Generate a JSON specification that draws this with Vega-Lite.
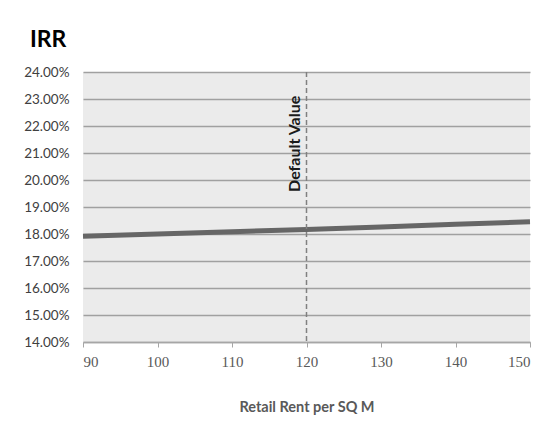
{
  "$schema": "https://vega.github.io/schema/vega-lite/v6.json",
  "width": 447,
  "height": 270,
  "autosize": "none",
  "padding": {"left": 83, "top": 72, "right": 23, "bottom": 90},
  "background": "white",
  "title": {
    "text": "IRR",
    "anchor": "start",
    "frame": "group",
    "dx": -53,
    "offset": 13,
    "font": "Lato",
    "fontSize": 23,
    "fontWeight": "bold",
    "color": "#000000"
  },
  "config": {
    "view": {"fill": "#ebebeb", "stroke": null},
    "font": "Lato"
  },
  "datasets": {
    "irr": [
      {"rent": 90, "irr": 0.1792},
      {"rent": 100, "irr": 0.1800},
      {"rent": 110, "irr": 0.1808},
      {"rent": 120, "irr": 0.1817},
      {"rent": 130, "irr": 0.1826},
      {"rent": 140, "irr": 0.1836},
      {"rent": 150, "irr": 0.1845}
    ],
    "marker": [
      {"rent": 120, "label": "Default Value", "irr": 0.2312}
    ]
  },
  "layer": [
    {
      "data": {"name": "irr"},
      "mark": {"type": "line", "color": "#666666", "strokeWidth": 5, "strokeCap": "butt"},
      "encoding": {
        "x": {
          "field": "rent",
          "type": "quantitative",
          "scale": {"domain": [90, 150], "nice": false, "zero": false},
          "axis": {
            "values": [90, 100, 110, 120, 130, 140, 150],
            "title": "Retail Rent per SQ M",
            "grid": false,
            "labelOverlap": false,
            "domainColor": "#a6a6a6",
            "domainWidth": 1.5,
            "tickColor": "#a6a6a6",
            "tickSize": 5,
            "labelFont": "Liberation Serif",
            "labelFontSize": 15,
            "labelColor": "#595959",
            "labelPadding": 7,
            "titleFont": "Lato",
            "titleFontSize": 14.5,
            "titleFontWeight": "bold",
            "titleColor": "#595959",
            "titlePadding": 31
          }
        },
        "y": {
          "field": "irr",
          "type": "quantitative",
          "scale": {"domain": [0.14, 0.24], "nice": false, "zero": false},
          "axis": {
            "values": [0.14, 0.15, 0.16, 0.17, 0.18, 0.19, 0.2, 0.21, 0.22, 0.23, 0.24],
            "format": ".2%",
            "title": null,
            "domain": false,
            "ticks": false,
            "grid": true,
            "labelOverlap": false,
            "gridColor": "#a0a0a0",
            "gridWidth": 1.3,
            "labelFont": "Lato",
            "labelFontSize": 13.5,
            "labelColor": "#404040",
            "labelPadding": 14
          }
        }
      }
    },
    {
      "data": {"name": "marker"},
      "mark": {"type": "rule", "color": "#808080", "strokeWidth": 1.5, "strokeDash": [5, 3]},
      "encoding": {
        "x": {
          "field": "rent",
          "type": "quantitative",
          "axis": {
            "values": [90, 100, 110, 120, 130, 140, 150],
            "title": "Retail Rent per SQ M",
            "grid": false,
            "labelOverlap": false,
            "domainColor": "#a6a6a6",
            "domainWidth": 1.5,
            "tickColor": "#a6a6a6",
            "tickSize": 5,
            "labelFont": "Liberation Serif",
            "labelFontSize": 15,
            "labelColor": "#595959",
            "labelPadding": 7,
            "titleFont": "Lato",
            "titleFontSize": 14.5,
            "titleFontWeight": "bold",
            "titleColor": "#595959",
            "titlePadding": 31
          }
        }
      }
    },
    {
      "data": {"name": "marker"},
      "mark": {"type": "text", "angle": 270, "align": "right", "baseline": "bottom", "dy": -4, "font": "Lato", "fontSize": 16, "fontWeight": "bold", "color": "#1a1a1a"},
      "encoding": {
        "x": {
          "field": "rent",
          "type": "quantitative",
          "axis": {
            "values": [90, 100, 110, 120, 130, 140, 150],
            "title": "Retail Rent per SQ M",
            "grid": false,
            "labelOverlap": false,
            "domainColor": "#a6a6a6",
            "domainWidth": 1.5,
            "tickColor": "#a6a6a6",
            "tickSize": 5,
            "labelFont": "Liberation Serif",
            "labelFontSize": 15,
            "labelColor": "#595959",
            "labelPadding": 7,
            "titleFont": "Lato",
            "titleFontSize": 14.5,
            "titleFontWeight": "bold",
            "titleColor": "#595959",
            "titlePadding": 31
          }
        },
        "y": {
          "field": "irr",
          "type": "quantitative",
          "axis": {
            "values": [0.14, 0.15, 0.16, 0.17, 0.18, 0.19, 0.2, 0.21, 0.22, 0.23, 0.24],
            "format": ".2%",
            "title": null,
            "domain": false,
            "ticks": false,
            "grid": true,
            "labelOverlap": false,
            "gridColor": "#a0a0a0",
            "gridWidth": 1.3,
            "labelFont": "Lato",
            "labelFontSize": 13.5,
            "labelColor": "#404040",
            "labelPadding": 14
          }
        },
        "text": {"field": "label"}
      }
    }
  ]
}
